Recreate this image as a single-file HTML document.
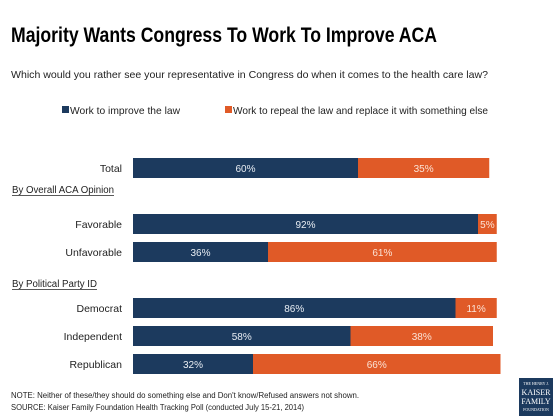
<!DOCTYPE html>
<html><head><meta charset="utf-8"><style>
html,body{margin:0;padding:0;background:#fff;}
svg{display:block;font-family:"Liberation Sans",sans-serif;}
</style></head><body>
<svg id="chart" width="557" height="418" viewBox="0 0 557 418">
<text x="11" y="42" font-size="21" font-weight="bold" fill="#000" textLength="426" lengthAdjust="spacingAndGlyphs">Majority Wants Congress To Work To Improve ACA</text>
<text x="11" y="78" font-size="10.5" fill="#222" textLength="477" lengthAdjust="spacingAndGlyphs">Which would you rather see your representative in Congress do when it comes to the health care law?</text>
<g>
<rect x="62" y="106" width="7" height="7" fill="#1c3a5e"/>
<text x="70" y="114" font-size="10.5" fill="#222" textLength="110" lengthAdjust="spacingAndGlyphs">Work to improve the law</text>
<rect x="225" y="106" width="7" height="7" fill="#e05a27"/>
<text x="233" y="114" font-size="10.5" fill="#222" textLength="255" lengthAdjust="spacingAndGlyphs">Work to repeal the law and replace it with something else</text>
</g>
<text x="12" y="193" font-size="10" fill="#222" textLength="102" lengthAdjust="spacingAndGlyphs">By Overall ACA Opinion</text>
<line x1="12" y1="195.5" x2="114" y2="195.5" stroke="#222" stroke-width="0.7"/>
<text x="12" y="287" font-size="10" fill="#222" textLength="85" lengthAdjust="spacingAndGlyphs">By Political Party ID</text>
<line x1="12" y1="289.5" x2="97" y2="289.5" stroke="#222" stroke-width="0.7"/>
<g id="bars"></g>
<text x="11" y="398" font-size="8" fill="#222" textLength="348" lengthAdjust="spacingAndGlyphs">NOTE: Neither of these/they should do something else and Don't know/Refused answers not shown.</text>
<text x="11" y="410" font-size="8" fill="#222" textLength="293" lengthAdjust="spacingAndGlyphs">SOURCE: Kaiser Family Foundation Health Tracking Poll (conducted July 15-21, 2014)</text>
<g>
<rect x="519" y="378" width="34" height="38" fill="#1c3a5e"/>
<text x="536" y="385" font-size="4" fill="#fff" text-anchor="middle" font-family="Liberation Serif,serif">THE HENRY J.</text>
<text x="536" y="395" font-size="8" fill="#fff" text-anchor="middle" font-family="Liberation Serif,serif">KAISER</text>
<text x="536" y="404" font-size="8" fill="#fff" text-anchor="middle" font-family="Liberation Serif,serif">FAMILY</text>
<text x="536" y="411" font-size="4" fill="#fff" text-anchor="middle" font-family="Liberation Serif,serif">FOUNDATION</text>
</g>
</svg>
<script>
const categories = ["Total","Favorable","Unfavorable","Democrat","Independent","Republican"];
const improveValues = [60,92,36,86,58,32];
const repealValues = [35,5,61,11,38,66];
const rowTops = [158,214,242,298,326,354];
const x0 = 133, pxPerPct = 225/60, barH = 20;
const xScale = v => v * pxPerPct;
const g = document.getElementById('bars');
const NS = 'http://www.w3.org/2000/svg';
function mk(tag, attrs){ const e=document.createElementNS(NS,tag); for(const k in attrs) e.setAttribute(k,attrs[k]); return e; }
categories.forEach((c,i)=>{
  const y = rowTops[i];
  const lab = mk('text',{x:122,y:y+14,'font-size':10.5,fill:'#222','text-anchor':'end'});
  lab.textContent = c;
  
  
  g.appendChild(lab);
  const w1 = xScale(improveValues[i]);
  const r1 = mk('rect',{x:x0,y:y,width:w1,height:barH,fill:'#1c3a5e'});
  
  
  g.appendChild(r1);
  const w2 = xScale(repealValues[i]);
  const r2 = mk('rect',{x:x0+w1,y:y,width:w2,height:barH,fill:'#e05a27'});
  
  
  g.appendChild(r2);
  const t1 = mk('text',{x:x0+w1/2,y:y+14,'font-size':10,fill:'#e8edf3','text-anchor':'middle'});
  t1.textContent = improveValues[i]+'%';
  
  
  g.appendChild(t1);
  const t2 = mk('text',{x:x0+w1+w2/2,y:y+14,'font-size':10,fill:'#fbe3d6','text-anchor':'middle'});
  t2.textContent = repealValues[i]+'%';
  
  
  g.appendChild(t2);
});
</script>
</body></html>
